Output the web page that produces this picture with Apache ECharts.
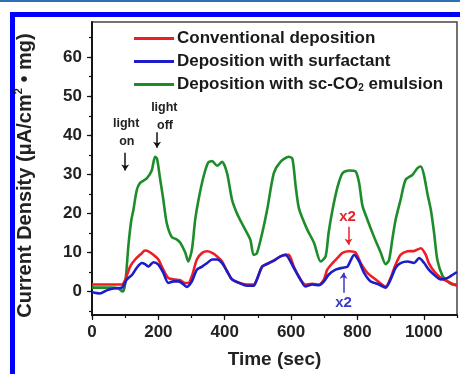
<!DOCTYPE html>
<html><head><meta charset="utf-8">
<script src="https://cdn.jsdelivr.net/npm/echarts@6/dist/echarts.min.js"></script>
<style>html,body{margin:0;padding:0;background:#fff}#c{width:460px;height:374px}</style>
</head><body><div id="c"></div>
<script>
// ---- data (time in sec, current density) ----
const greenT = [0,30,60,80,92,100,110,118,125,135,145,165,180,190,196,205,215,225,240,256,266,281,290,301,311,321,336,350,362,377,392,407,422,437,457,477,487,497,513,528,548,568,593,604,614,623,633,649,669,689,704,713,725,740,755,775,794,805,815,830,850,870,885,895,905,915,930,945,966,981,991,1000,1011,1021,1031,1041,1057,1072,1087,1100];
const greenV = [1,1,1,0.8,0,2,12,18,21,26,27.8,29,31,34.5,34,29,23.5,17.6,14,13.3,12.5,10,7.7,10.7,18.4,23.5,29.4,33,33.4,32.2,33.2,30.3,23.5,20,16.6,13.3,9.4,9.8,15,21,30.3,33.2,34.5,34,26.8,21.5,19,15.8,12.5,7.7,9,15,21,26.8,30.3,31,30.8,27.8,22,18.4,14,10,7,8,13.3,18.4,23.5,28.6,29.9,31.6,32,30,25,21,15,8,3.9,2.6,1.8,1.8];

const redT = [0,30,60,90,100,115,130,145,160,170,185,200,215,230,251,266,281,290,301,316,332,347,362,377,392,407,422,441,467,487,497,513,533,553,568,583,593,608,623,643,664,684,699,709,725,740,755,775,794,810,830,855,885,900,915,930,951,971,991,1006,1015,1031,1051,1072,1091,1100];
const redV = [1.8,1.8,1.8,1.8,3,6.4,8.2,9.4,10.5,10.3,9.4,8.2,5.6,3.5,3.1,2.9,2.2,2.2,3.9,8.2,9.9,10.3,9.9,9,7.7,5.2,3.1,2.3,1.8,1.8,3.1,6.4,7.3,8.2,9,9.4,9.4,6.4,3.9,1.8,2,1.8,3.1,5.6,7.3,8.6,9.9,10.3,10,7.3,4.8,3.1,1.3,3.5,6.9,9.4,10.3,10.4,11.1,9.4,7.3,5.2,3.5,2.6,1.8,1.5];

const blueT = [0,24,44,64,90,105,121,135,150,160,170,185,200,215,230,246,261,276,286,301,316,332,347,362,377,392,407,422,441,467,487,497,513,533,553,568,583,608,628,643,664,684,699,713,734,755,770,790,805,820,840,865,885,900,915,930,951,971,986,1001,1015,1031,1051,1072,1087,1100];
const blueV = [-0.2,-0.5,0.3,0.8,1,3.1,4.3,6.1,7.3,7,6.4,7.5,6.9,4.8,2.2,2.6,2.6,1.8,1.2,2.6,5.6,6.4,7.3,8.2,8.2,7.3,5.2,3.1,2.3,1.5,1.5,3.1,6.4,7.3,8.2,9,9.4,6.1,3.1,1.3,1.8,1.6,2.6,4.3,5.6,6.1,6.4,9.4,7.7,4.8,2.6,1.8,1,3.1,6.1,7.3,7.7,7.3,8.6,7.3,5.6,4.3,3.1,3.5,4.3,5];

const seriesNames = ['Conventional deposition','Deposition with surfactant','Deposition with sc-CO2 emulsion'];
const seriesColors = ['#ee1d23','#1c1cc8','#1e8c2a'];
const xTickLabels = [0,200,400,600,800,1000];
const xMinorTicks = [0,100,200,300,400,500,600,700,800,900,1000,1100];
const yTickLabels = [0,10,20,30,40,50,60];
const yMinorTicks = [-5,0,5,10,15,20,25,30,35,40,45,50,55,60,65];

const zip = (t, v) => t.map((x, i) => [x, v[i]]);

const chart = echarts.init(document.getElementById('c'), null, {renderer: 'canvas'});
const FONT = 'Liberation Sans, Arial, sans-serif';
const axisLine = {show: true, onZero: false, lineStyle: {color: '#111', width: 1.5}};

function axisPair(kind) {
  const isX = kind === 'x';
  const common = {
    type: 'value', min: isX ? 0 : -6, max: isX ? 1100 : 69,
    splitLine: {show: false}, axisLine: axisLine
  };
  const main = Object.assign({}, common, {
    axisTick: {show: true, inside: false, length: 5, lineStyle: {color: '#111', width: 1.2},
      customValues: isX ? xTickLabels : yTickLabels},
    axisLabel: {show: true, customValues: isX ? xTickLabels : yTickLabels,
      formatter: v => String(v),
      fontFamily: FONT, fontWeight: 'bold', fontSize: 17, color: '#222', margin: isX ? 9 : 10}
  });
  const minor = Object.assign({}, common, {
    axisTick: {show: true, inside: false, length: 3, lineStyle: {color: '#111', width: 1.2},
      customValues: isX ? xMinorTicks : yMinorTicks},
    axisLabel: {show: false}
  });
  return [main, minor];
}
const [xMain, xMinor] = axisPair('x');
const [yMain, yMinor] = axisPair('y');
xMain.position = 'bottom'; xMinor.position = 'bottom';
yMain.position = 'left'; yMinor.position = 'left';
xMain.name = 'Time (sec)';
xMain.nameLocation = 'middle';
xMain.nameGap = 35;
xMain.nameTextStyle = {fontFamily: FONT, fontWeight: 'bold', fontSize: 19, color: '#222'};
yMain.name = '{a|Current Density (\u03bcA/cm}{s|2}{a| \u2022 mg)}';
yMain.nameLocation = 'middle';
yMain.nameGap = 55;
yMain.nameTextStyle = {
  padding: [0, 14, 0, 0],
  rich: {
    a: {fontFamily: FONT, fontWeight: 'bold', fontSize: 20, color: '#222', lineHeight: 24},
    s: {fontFamily: FONT, fontWeight: 'bold', fontSize: 11, color: '#222', verticalAlign: 'top', lineHeight: 24}
  }
};

function note(x, y, text, color, size) {
  return {coord: [x, y], symbol: 'circle', symbolSize: 1, itemStyle: {color: 'rgba(0,0,0,0)'},
    label: {show: true, position: 'inside', formatter: text, color: color,
      fontFamily: FONT, fontWeight: 'bold', fontSize: size}};
}
function arrow(x, y1, y2, color) {
  return [{coord: [x, y1], lineStyle: {color: color, width: 1.5, type: 'solid'}}, {coord: [x, y2]}];
}

const series = [
  {name: seriesNames[0], data: zip(redT, redV), color: seriesColors[0],
   markPoint: {silent: true, data: [note(770, 19, 'x2', '#e8202a', 15)]},
   markLine: {silent: true, symbol: ['none', 'arrow'], symbolSize: 6, label: {show: false},
     data: [arrow(773, 16.6, 12, '#e8202a')]}},
  {name: seriesNames[1], data: zip(blueT, blueV), color: seriesColors[1],
   markPoint: {silent: true, data: [note(758, -2.8, 'x2', '#3a3ac8', 15)]},
   markLine: {silent: true, symbol: ['none', 'arrow'], symbolSize: 6, label: {show: false},
     data: [arrow(758, -0.3, 4.8, '#3a3ac8')]}},
  {name: seriesNames[2], data: zip(greenT, greenV), color: seriesColors[2],
   markPoint: {silent: true, data: [
     note(103, 42.9, 'light', '#222', 12.5), note(105, 38.3, 'on', '#222', 12.5),
     note(218, 47.2, 'light', '#222', 12.5), note(220, 42.6, 'off', '#222', 12.5)]},
   markLine: {silent: true, symbol: ['none', 'arrow'], symbolSize: 6, label: {show: false},
     data: [arrow(100, 35.5, 31, '#111'), arrow(196, 40.8, 36.8, '#111')]}}
].map(s => Object.assign({
  type: 'line', smooth: 0.25, symbol: 'none', lineStyle: {width: 2.6, color: s.color},
  itemStyle: {color: s.color}, xAxisIndex: 0, yAxisIndex: 0, z: 3
}, s));
series.sort((a, b) => (a.name === seriesNames[2] ? -1 : 0) - (b.name === seriesNames[2] ? -1 : 0));

chart.setOption({
  animation: false,
  backgroundColor: '#fff',
  grid: {left: 92, right: 3, top: 22, bottom: 58, show: true, borderColor: '#444', borderWidth: 1.5},
  xAxis: [xMain, xMinor],
  yAxis: [yMain, yMinor],
  legend: {
    orient: 'vertical', left: 129, top: 25, itemWidth: 40, itemHeight: 3, itemGap: 6, icon: 'rect',
    data: seriesNames,
    formatter: n => n === seriesNames[2] ? '{a|Deposition with sc-CO}{s|2}{a| emulsion}' : '{a|' + n + '}',
    textStyle: {
      padding: [0, 0, 0, -2],
      rich: {
        a: {fontFamily: FONT, fontWeight: 'bold', fontSize: 17, color: '#1a1a1a', lineHeight: 18},
        s: {fontFamily: FONT, fontWeight: 'bold', fontSize: 10, color: '#1a1a1a', verticalAlign: 'bottom', lineHeight: 18}
      }
    }
  },
  graphic: [
    {type: 'rect', shape: {x: 0, y: 0, width: 460, height: 2}, style: {fill: '#2f6fb5'}},
    {type: 'rect', shape: {x: 10, y: 12, width: 450, height: 5}, style: {fill: '#0000ff'}},
    {type: 'rect', shape: {x: 10, y: 12, width: 5, height: 362}, style: {fill: '#0000ff'}}
  ],
  series: series
});
</script></body></html>
